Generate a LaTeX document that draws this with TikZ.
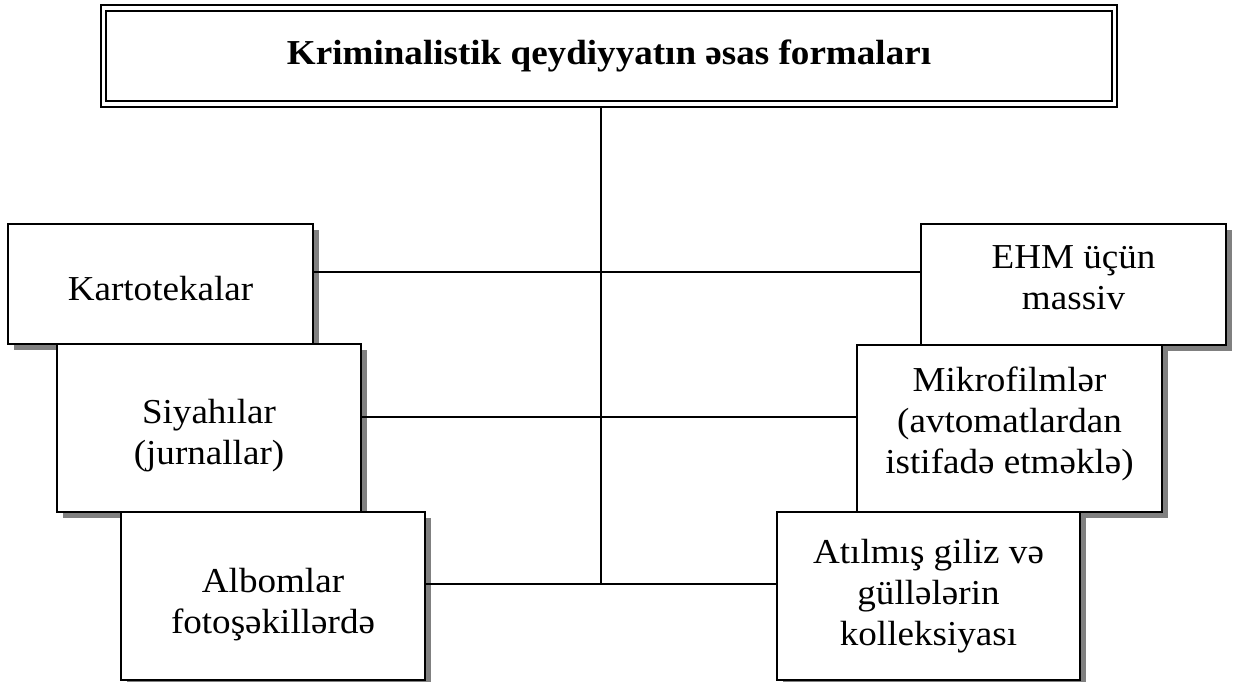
\documentclass[tikz,border=0pt]{standalone}
\usepackage{fontspec}
\setmainfont{Liberation Serif}[FakeStretch=1.06]
\usetikzlibrary{shadows}
\definecolor{shadowgray}{RGB}{128,128,128}
\begin{document}
\begin{tikzpicture}[x=1pt,y=-1pt,
  box/.style={draw, line width=1.8pt, fill=white, rectangle, inner sep=0pt,
    drop shadow={shadow xshift=5.5pt, shadow yshift=-5.5pt, fill=shadowgray, opacity=1}},
  txt/.style={inner sep=0pt, align=center, font=\fontsize{35}{41}\selectfont},
  conn/.style={line width=1.8pt}]
\useasboundingbox (0,0) rectangle (1238,681);
% title box
\node[draw, line width=2pt, rectangle, minimum width=1016pt, minimum height=102pt,
  font=\fontsize{35}{41}\selectfont\bfseries] (title) at (609,56) {Kriminalistik qeydiyyatın əsas formaları};
\draw[line width=2.6pt] ([shift={(6,7)}]title.north west) rectangle ([shift={(-6,-7)}]title.south east);
% left boxes
\node[box, minimum width=305pt, minimum height=120pt] (kart) at (160.5,284) {};
\node[txt, yshift=-5pt] (kart-t) at (kart) {Kartotekalar};
\node[box, minimum width=304pt, minimum height=168pt] (sia) at (209,428) {};
\node[txt, yshift=-8pt] (sia-t) at (sia) {Siyahılar\\(jurnallar)};
\node[box, minimum width=304pt, minimum height=168pt] (alb) at (273,596) {};
\node[txt, yshift=-9pt] (alb-t) at (alb) {Albomlar\\fotoşəkillərdə};
% right boxes
\node[box, minimum width=305pt, minimum height=121pt] (ehm) at (1073.5,284.5) {};
\node[txt, yshift=7pt] (ehm-t) at (ehm) {EHM üçün\\massiv};
\node[box, minimum width=305pt, minimum height=167pt] (mik) at (1009.5,428.5) {};
\node[txt, yshift=5pt] (mik-t) at (mik) {Mikrofilmlər\\(avtomatlardan\\istifadə etməklə)};
\node[box, minimum width=303pt, minimum height=168pt] (ati) at (928.5,596) {};
\node[txt] (ati-t) at (ati) {Atılmış giliz və\\güllələrin\\kolleksiyası};
% connectors
\coordinate (j) at (601,584);
\coordinate (h1) at (601,272);
\coordinate (h2) at (601,417);
\draw[conn] (title.south -| j) -- (j);
\draw[conn] (kart.east |- h1) -- (ehm.west |- h1);
\draw[conn] (sia.east |- h2) -- (mik.west |- h2);
\draw[conn] (alb.east |- j) -- (ati.west |- j);
\end{tikzpicture}
\end{document}
